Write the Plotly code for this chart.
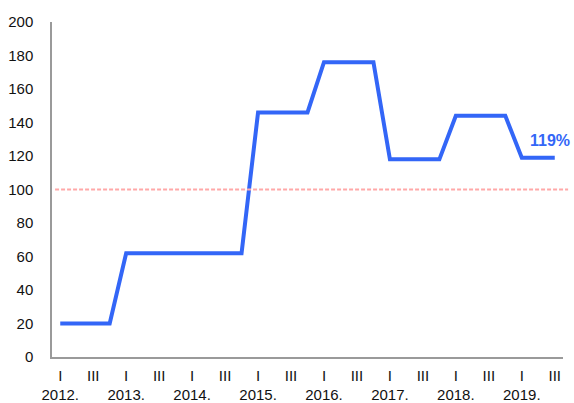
import plotly.graph_objects as go

# Quarterly series, 2012 Q1 through 2019 Q3
years = [2012, 2013, 2014, 2015, 2016, 2017, 2018, 2019]
quarter_names = ["I", "II", "III", "IV"]
values = [20, 20, 20, 20,
          62, 62, 62, 62,
          62, 62, 62, 62,
          146, 146, 146, 146,
          176, 176, 176, 176,
          118, 118, 118, 118,
          144, 144, 144, 144,
          119, 119, 119]
threshold = 100
last_label = "119%"

x_idx = list(range(len(values)))

# Tick labels: quarters I and III, year under each Q1
tick_vals = []
tick_text = []
for i in x_idx:
    q = i % 4
    if q == 0:
        tick_vals.append(i)
        tick_text.append(f"I<br>{years[i // 4]}.")
    elif q == 2:
        tick_vals.append(i)
        tick_text.append("III<br> ")

blue = "#3366f7"

fig = go.Figure()
fig.add_trace(go.Scatter(
    x=x_idx, y=values, mode="lines",
    line=dict(color=blue, width=4),
    hoverinfo="skip", showlegend=False,
))

# Reference level
fig.add_shape(type="line", xref="paper", yref="y",
              x0=0.006, x1=1.01, y0=threshold, y1=threshold,
              line=dict(color="#ffa8a8", width=2, dash="4px,2px"))

fig.add_annotation(x=x_idx[-1], y=values[-1], text=f"<b>{last_label}</b>",
                   showarrow=False, xanchor="center", yanchor="bottom",
                   xshift=-5, yshift=7,
                   font=dict(family="Liberation Sans, Arial", size=16, color=blue))

fig.update_layout(
    width=574, height=403,
    margin=dict(l=52, r=11, t=22, b=46),
    paper_bgcolor="white", plot_bgcolor="white",
    font=dict(family="Liberation Sans, Arial", size=15, color="#111"),
    xaxis=dict(range=[-0.5, len(values) - 0.5], tickmode="array",
               tickvals=tick_vals, ticktext=tick_text,
               showgrid=False, zeroline=False, showline=True,
               linecolor="#9a9a9a", linewidth=1.5, ticks="",
               ticklabelstandoff=4, tickfont=dict(size=15), automargin=False),
    yaxis=dict(range=[0, 200], tickmode="linear", tick0=0, dtick=20,
               showgrid=False, zeroline=False, showline=True,
               linecolor="#9a9a9a", linewidth=1.5, ticks="",
               ticklabelstandoff=14, tickfont=dict(size=15), automargin=False),
)

fig.write_html("out.html")
